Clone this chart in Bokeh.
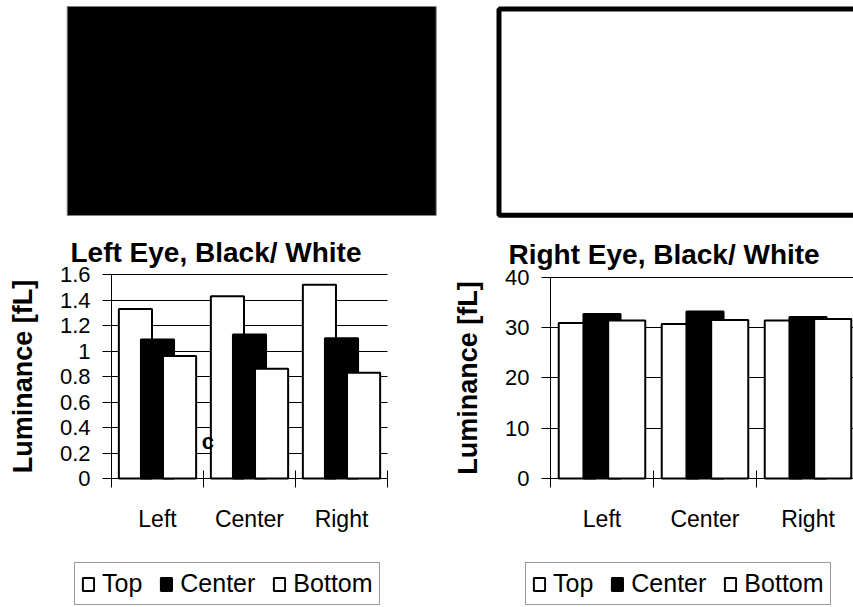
from bokeh.plotting import figure
from bokeh.layouts import column, row
from bokeh.models import (ColumnDataSource, Range1d, FixedTicker, Legend, LegendItem,
                          Label, CustomJSTickFormatter)
from bokeh.embed import file_html
from bokeh.resources import INLINE
from bokeh.transform import dodge

# ---------------- data ----------------
positions = ["Left", "Center", "Right"]
series = ["Top", "Center", "Bottom"]
series_fill = ["white", "black", "white"]
series_offset = [-0.24, 0.0, 0.24]

left_top = [1.33, 1.43, 1.52]
left_center = [1.09, 1.13, 1.10]
left_bottom = [0.96, 0.86, 0.83]

right_top = [30.9, 30.7, 31.4]
right_center = [32.7, 33.2, 32.1]
right_bottom = [31.4, 31.5, 31.7]

left_yticks = [0, 0.2, 0.4, 0.6, 0.8, 1, 1.2, 1.4, 1.6]
right_yticks = [0, 10, 20, 30, 40]

FONT = "Liberation Sans"

TOP_H = 230
BOT_H = 377
LEFT_W = 440
RIGHT_W = 413


def swatch(width, height, fill, line_color, line_width, l, r, t, b):
    p = figure(width=width, height=height, x_range=Range1d(0, width), y_range=Range1d(height, 0),
               output_backend="svg", toolbar_location=None, x_axis_location=None,
               y_axis_location=None, min_border=0)
    p.grid.visible = False
    p.outline_line_color = None
    p.quad(left=l, right=r, top=t, bottom=b, fill_color=fill, line_color=line_color,
           line_width=line_width)
    return p


def chart(title, width, axis_px, cat_px, yticks, tvals, cvals, bvals, top_px,
          title_px, title_base_px, legend_x):
    ymax = yticks[-1]
    zero_px = 248                      # y pixel of value 0 inside the figure
    px_per = (zero_px - top_px) / ymax
    ystart = -(BOT_H - zero_px) / px_per
    yend = ymax + top_px / px_per
    xstart = -axis_px / cat_px
    xend = (width - axis_px) / cat_px
    p = figure(width=width, height=BOT_H, x_range=Range1d(xstart, xend),
               y_range=Range1d(ystart, yend), output_backend="svg", toolbar_location=None,
               min_border=0)
    p.outline_line_color = None
    p.xgrid.visible = False
    p.ygrid.grid_line_color = "black"
    p.ygrid.grid_line_width = 1
    p.ygrid.cross_bounds = (0, len(positions))

    p.add_layout(Label(x=(title_px - axis_px) / cat_px,
                       y=(zero_px - title_base_px) / px_per, text=title,
                       text_font=FONT, text_font_size="28px", text_font_style="bold",
                       text_color="black", text_align="left", text_baseline="alphabetic"))

    xa = p.xaxis[0]
    xa.fixed_location = 0
    xa.bounds = (0, len(positions))
    xa.ticker = FixedTicker(ticks=[i + 0.5 for i in range(len(positions))],
                            minor_ticks=list(range(len(positions) + 1)))
    xa.formatter = CustomJSTickFormatter(args=dict(labels=positions),
                                         code="return labels[Math.floor(tick)];")
    xa.major_tick_line_color = None
    xa.major_tick_in = 0
    xa.major_tick_out = 0
    xa.minor_tick_line_color = "black"
    xa.minor_tick_in = 8
    xa.minor_tick_out = 9
    xa.axis_line_color = "black"
    xa.major_label_standoff = 18
    xa.major_label_text_font = FONT
    xa.major_label_text_font_size = "23px"
    xa.major_label_text_color = "black"

    ya = p.yaxis[0]
    ya.fixed_location = 0
    ya.ticker = FixedTicker(ticks=yticks, minor_ticks=[])
    ya.formatter = CustomJSTickFormatter(code="return tick.toString();")
    ya.bounds = (0, ymax)
    ya.major_tick_in = 0
    ya.major_tick_out = 9
    ya.minor_tick_line_color = None
    ya.axis_line_color = "black"
    ya.major_label_standoff = 12
    ya.major_label_text_font = FONT
    ya.major_label_text_font_size = "22px"
    ya.major_label_text_color = "black"
    ya.axis_label = "Luminance [fL]"
    ya.axis_label_text_font = FONT
    ya.axis_label_text_font_size = "27px"
    ya.axis_label_text_font_style = "bold"
    ya.axis_label_text_color = "black"
    ya.axis_label_standoff = 19

    src = ColumnDataSource(dict(x=[i + 0.5 for i in range(len(positions))],
                                Top=tvals, Center=cvals, Bottom=bvals))
    rends = []
    for name, fill, off in zip(series, series_fill, series_offset):
        r = p.vbar(x=dodge("x", off), top=name, width=0.36, source=src, fill_color=fill,
                   line_color="black", line_width=2)
        rends.append(r)

    legend = Legend(items=[LegendItem(label=s, renderers=[r]) for s, r in zip(series, rends)],
                    location=(legend_x, 2), orientation="horizontal")
    legend.label_text_font = FONT
    legend.label_text_font_size = "25px"
    legend.label_text_color = "black"
    legend.glyph_width = 14
    legend.glyph_height = 16
    legend.label_standoff = 7
    legend.spacing = 17
    legend.padding = 6
    legend.margin = 0
    legend.border_line_color = "#333333"
    legend.border_line_width = 1
    legend.background_fill_color = "white"
    legend.background_fill_alpha = 1
    p.add_layout(legend)
    return p


sw_left = swatch(LEFT_W, TOP_H, "black", "#808080", 1, 66.7, 435.7, 6, 215)
sw_right = swatch(RIGHT_W, TOP_H, "white", "black", 5, 58.5, RIGHT_W + 20, 8.5, 214.8)

ch_left = chart("Left Eye, Black/ White", LEFT_W, 111, 92.0, left_yticks, left_top,
                left_center, left_bottom, 44, 70, 21.5, 74)
ch_left.add_layout(Label(x=0.98, y=0.29, text="c", text_font=FONT, text_font_size="22px",
                         text_font_style="bold", text_align="left",
                         text_baseline="alphabetic", text_color="black"))

ch_right = chart("Right Eye, Black/ White", RIGHT_W, 110, 103.0, right_yticks, right_top,
                 right_center, right_bottom, 46.7, 68, 24, 85)

layout = column(row(sw_left, sw_right), row(ch_left, ch_right))

open("out.html", "w").write(file_html(layout, INLINE))
